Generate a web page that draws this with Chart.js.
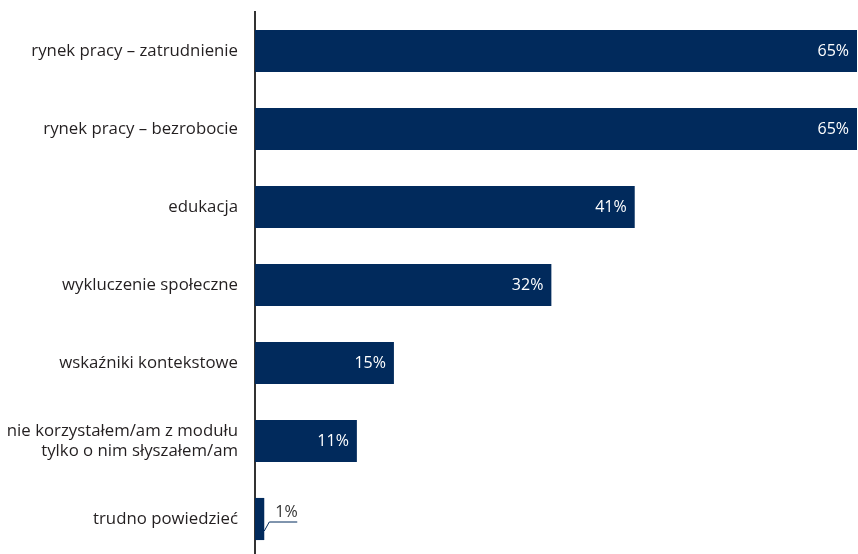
<!DOCTYPE html>
<html>
<head>
<meta charset="utf-8">
<script src="https://cdn.jsdelivr.net/npm/chart.js@4"></script>
<style>
  html, body { margin: 0; padding: 0; background: #fff; overflow: hidden; }
  #wrap { width: 858px; height: 560px; }
</style>
</head>
<body>
<div id="wrap"><canvas id="chart"></canvas></div>
<script>
const categories = [
    'rynek pracy – zatrudnienie',
    'rynek pracy – bezrobocie',
    'edukacja',
    'wykluczenie społeczne',
    'wskaźniki kontekstowe',
    ['nie korzystałem/am z modułu', 'tylko o nim słyszałem/am'],
    'trudno powiedzieć'
];

const values = [65, 65, 41, 32, 15, 11, 1];

const barColor = '#012a5c';

// white label inside bar, small ones get a leader line outside
const valueLabels = {
    id: 'valueLabels',
    afterDatasetsDraw(chart) {
        const ctx = chart.ctx;
        const meta = chart.getDatasetMeta(0);
        ctx.save();
        ctx.font = '16px "Open Sans", sans-serif';
        ctx.textBaseline = 'middle';
        meta.data.forEach((bar, i) => {
            const txt = values[i] + '%';
            if (values[i] >= 5) {
                ctx.fillStyle = '#ffffff';
                ctx.textAlign = 'right';
                ctx.fillText(txt, bar.x - 8, bar.y);
            } else {
                ctx.strokeStyle = barColor;
                ctx.lineWidth = 1;
                ctx.beginPath();
                ctx.moveTo(bar.x, bar.y + 12);
                ctx.lineTo(bar.x + 5, bar.y + 3);
                ctx.lineTo(bar.x + 33, bar.y + 3);
                ctx.stroke();
                ctx.fillStyle = '#333333';
                ctx.textAlign = 'left';
                ctx.fillText(txt, bar.x + 11, bar.y - 7);
            }
        });
        ctx.restore();
    }
};

new Chart(document.getElementById('chart'), {
    type: 'bar',
    data: {
        labels: categories,
        datasets: [{
            data: values,
            backgroundColor: barColor,
            categoryPercentage: 0.54,
            barPercentage: 1
        }]
    },
    options: {
        indexAxis: 'y',
        responsive: true,
        maintainAspectRatio: false,
        animation: false,
        layout: { padding: { top: 12, right: 1, bottom: 2, left: 0 } },
        plugins: {
            legend: { display: false },
            tooltip: { enabled: false }
        },
        scales: {
            x: {
                display: false,
                min: 0,
                max: 65
            },
            y: {
                afterFit(scale) {
                    scale.width = 255;
                    scale.paddingTop = 0;
                    scale.paddingBottom = 0;
                },
                grid: { display: false, drawTicks: false },
                border: { display: true, color: '#333333', width: 2 },
                ticks: {
                    color: '#231f20',
                    padding: 17,
                    font: { family: '"Open Sans", sans-serif', size: 16.8 }
                }
            }
        }
    },
    plugins: [valueLabels]
});
</script>
</body>
</html>
